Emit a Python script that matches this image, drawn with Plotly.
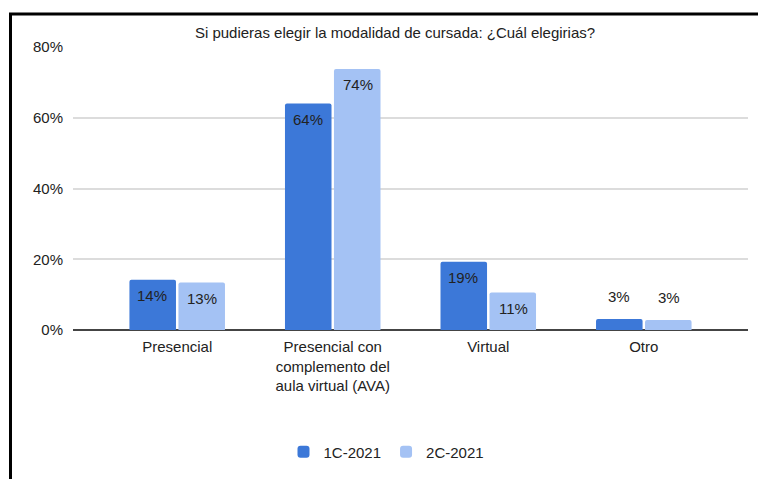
import plotly.graph_objects as go

categories = ["Presencial", "Presencial con<br>complemento del<br>aula virtual (AVA)", "Virtual", "Otro"]
series_names = ["1C-2021", "2C-2021"]
values_1c = [0.142, 0.640, 0.193, 0.031]
values_2c = [0.134, 0.738, 0.106, 0.028]
y_ticks = [0, 0.2, 0.4, 0.6, 0.8]
title_text = "Si pudieras elegir la modalidad de cursada: ¿Cuál elegirias?"

colors = ["#3c78d8", "#a4c2f4"]
FONT = "Liberation Sans, Arial, sans-serif"
FS = 15

fig = go.Figure()
for name, vals, col in zip(series_names, [values_1c, values_2c], colors):
    fig.add_trace(go.Bar(x=categories, y=vals, name=name,
                         marker=dict(color=col, line=dict(width=0), cornerradius=2),
                         hoverinfo="skip"))

annotations = []
for vals, shift in zip([values_1c, values_2c], [-25, 25]):
    for c, v in zip(categories, vals):
        inside = v >= 0.05
        annotations.append(dict(x=c, y=v, xref="x", yref="y", text=f"{v:.0%}", showarrow=False,
                                xshift=shift, yshift=-15.5 if inside else 23,
                                font=dict(family=FONT, size=FS, color="#222222")))

fig.update_layout(
    width=758, height=479,
    margin=dict(l=73, r=10, t=47, b=149),
    paper_bgcolor="white", plot_bgcolor="white",
    font=dict(family=FONT, size=FS, color="#222222"),
    title=dict(text=title_text, x=395/758, xref="container", xanchor="center",
               y=1 - 33/479, yref="container", yanchor="middle",
               font=dict(family=FONT, size=15, color="#222222")),
    barmode="group", bargap=0.37, bargroupgap=0.05,
    showlegend=True,
    legend=dict(orientation="h", x=(386.5-73)/675, xanchor="center", y=-0.431, yanchor="middle",
                font=dict(family=FONT, size=FS, color="#222222"), itemclick=False),
    annotations=annotations,
    shapes=[dict(type="path", xref="paper", yref="paper",
                 path=f"M {(10.5-73)/675} -0.6 L {(10.5-73)/675} {(330-14)/283} L 1.05 {(330-14)/283}",
                 line=dict(color="black", width=3))],
)
fig.update_xaxes(range=[-0.67, 3.67], showgrid=False, ticks="", showline=False,
                 ticklabelstandoff=6,
                 tickfont=dict(family=FONT, size=FS, color="#222222"))
fig.update_yaxes(range=[0, 0.8], tickvals=y_ticks, tickformat=".0%", showgrid=True,
                 gridcolor="#dcdcdc", gridwidth=1.5, zeroline=True, zerolinecolor="#444444",
                 zerolinewidth=1.5, showline=False, ticks="", ticklabelstandoff=9,
                 tickfont=dict(family=FONT, size=FS, color="#222222"))

fig.write_html("out.html")
